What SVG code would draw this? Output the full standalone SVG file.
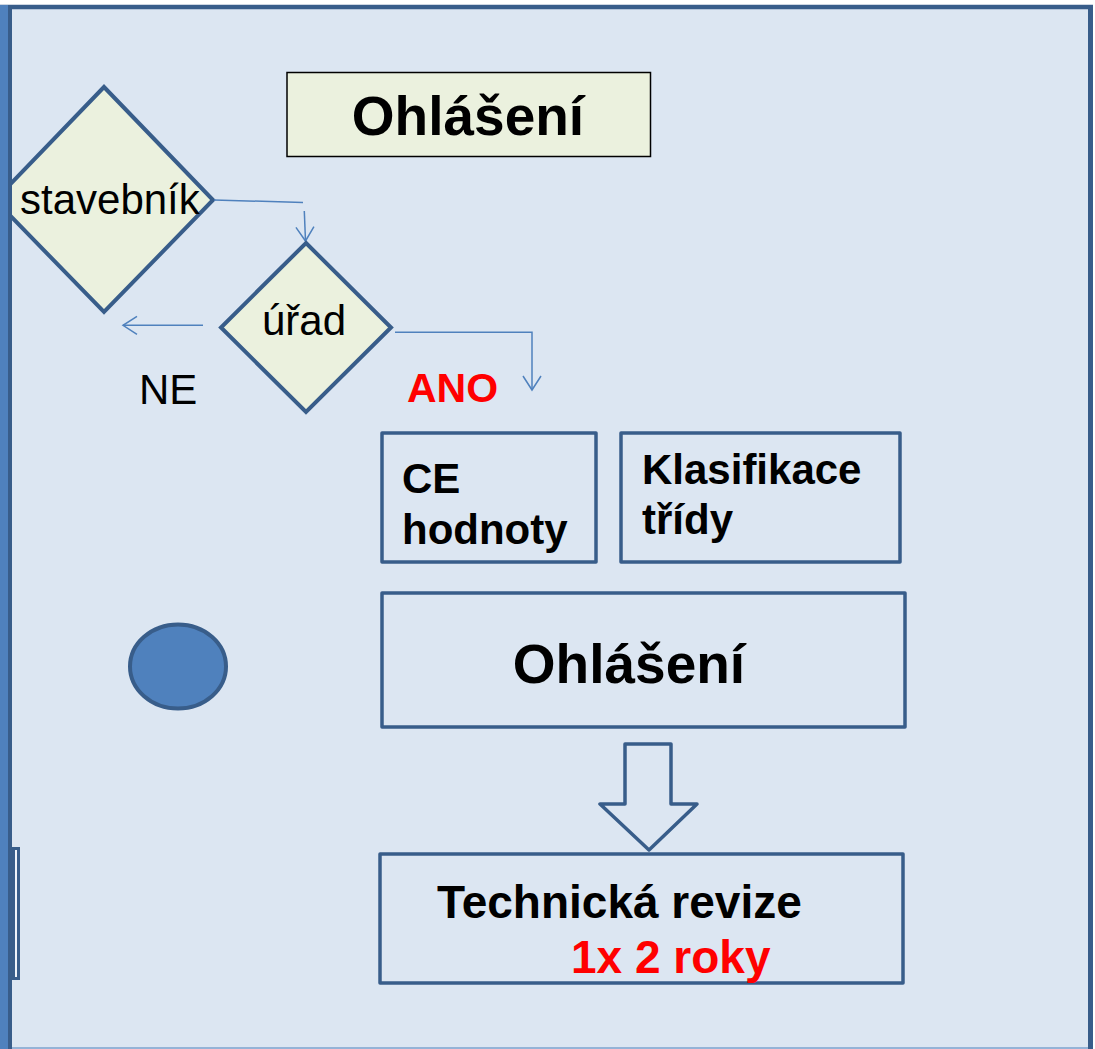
<svg xmlns="http://www.w3.org/2000/svg" width="1095" height="1049" viewBox="0 0 1095 1049">
  <style>
    .frame { fill: #dce6f2; }
    .dec { fill: #ebf1de; stroke: #385d8a; stroke-width: 4; stroke-linejoin: miter; }
    .box { fill: #dce6f2; stroke: #385d8a; stroke-width: 3.5; stroke-linejoin: round; }
    .title { fill: #ebf1de; stroke: #000000; stroke-width: 1.5; }
    .conn { fill: none; stroke: #4f81bd; stroke-width: 1.5; }
    .t { font-family: "Liberation Sans", Arial, sans-serif; fill: #000000; }
    .b { font-weight: bold; }
    .red { fill: #ff0000; }
  </style>
  <defs>
    <marker id="arr" markerUnits="userSpaceOnUse" markerWidth="20" markerHeight="20" viewBox="0 0 20 20" refX="15" refY="10" orient="auto">
      <path d="M1,1 L15,10 L1,19" fill="none" stroke="#4f81bd" stroke-width="1.5"/>
    </marker>
  </defs>

  <!-- page background -->
  <rect x="0" y="0" width="1095" height="1049" fill="#ffffff"/>
  <rect class="frame" x="10" y="7" width="1080" height="1042"/>

  <!-- decision: stavebník (partly hidden behind the left bar) -->
  <g id="stavebnik">
    <polygon class="dec" points="104,87 213,200 104,312 -5,200"/>
    <text class="t" x="20" y="214" font-size="42">stavebník</text>
  </g>

  <!-- frame edges -->
  <line x1="0" y1="7" x2="1093" y2="7" stroke="#385d8a" stroke-width="4.5"/>
  <line x1="1090.5" y1="5" x2="1090.5" y2="1049" stroke="#385d8a" stroke-width="5"/>
  <line x1="12" y1="1048" x2="1088" y2="1048" stroke="#95b3d7" stroke-width="2"/>
  <rect x="0" y="5" width="8.5" height="1044" fill="#4f81bd"/>
  <line x1="10" y1="5" x2="10" y2="1049" stroke="#385d8a" stroke-width="4"/>
  <rect x="13.5" y="848.5" width="5" height="130" fill="#eef3fa" stroke="#385d8a" stroke-width="3"/>

  <!-- connectors -->
  <g id="connectors">
    <path class="conn" d="M214,200 L303,202.5"/>
    <path class="conn" d="M304.3,211 L305.5,241" marker-end="url(#arr)"/>
    <path class="conn" d="M395,332.3 H532 V390" marker-end="url(#arr)"/>
    <path class="conn" d="M203,325.3 H123" marker-end="url(#arr)"/>
  </g>

  <!-- title -->
  <g id="title">
    <rect class="title" x="287" y="72.5" width="363.5" height="84"/>
    <text class="t b" x="468" y="135" font-size="55" text-anchor="middle">Ohlášení</text>
  </g>

  <!-- decision: úřad -->
  <g id="urad">
    <polygon class="dec" points="306,243 391,327.5 306,412 221,327.5"/>
    <text class="t" x="262" y="335" font-size="42">úřad</text>
  </g>

  <g id="label-ne">
    <text class="t" x="139" y="404" font-size="42">NE</text>
  </g>
  <g id="label-ano">
    <text class="t b red" x="407" y="402" font-size="41">ANO</text>
  </g>

  <g id="ce">
    <rect class="box" x="382" y="433" width="214" height="129"/>
    <text class="t b" x="402" y="493" font-size="42">CE</text>
    <text class="t b" x="402" y="544" font-size="42">hodnoty</text>
  </g>

  <g id="klasifikace">
    <rect class="box" x="621" y="433" width="279" height="129"/>
    <text class="t b" x="642" y="484" font-size="42">Klasifikace</text>
    <text class="t b" x="642" y="534" font-size="42">třídy</text>
  </g>

  <g id="marker-circle">
    <ellipse cx="178" cy="666.5" rx="48" ry="42" fill="#4f81bd" stroke="#385d8a" stroke-width="4"/>
  </g>

  <g id="ohlaseni">
    <rect class="box" x="382" y="593" width="523" height="134"/>
    <text class="t b" x="629" y="683" font-size="55" text-anchor="middle">Ohlášení</text>
  </g>

  <g id="down-arrow">
    <polygon class="box" stroke-width="4" stroke-linejoin="miter" points="625,744 671,744 671,804 697,804 649,850 600,804 625,804"/>
  </g>

  <g id="revize">
    <rect class="box" x="380" y="854" width="523" height="129"/>
    <text class="t b" x="437" y="918" font-size="46">Technická revize</text>
    <text class="t b red" x="571" y="973" font-size="46">1x 2 roky</text>
  </g>
</svg>
